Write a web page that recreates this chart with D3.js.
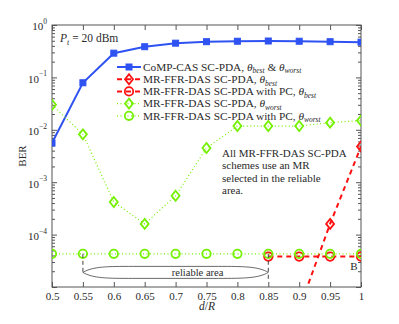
<!DOCTYPE html>
<html>
<meta charset="utf-8">
<style>
  body { margin: 0; background: #fff; }
  text { font-family: "Liberation Serif", "Times New Roman", "DejaVu Serif", serif; fill: #2a2a2a; }
  .axis line { stroke: #555; }
  .axis path { display: none; }
</style>
<body>
<script src="https://d3js.org/d3.v7.min.js"></script>
<script>
// ---- data ----
var dR = [0.5, 0.55, 0.6, 0.65, 0.7, 0.75, 0.8, 0.85, 0.9, 0.95, 1];
var compCas   = [5.6e-3, 0.079, 0.29, 0.385, 0.45, 0.48, 0.49, 0.495, 0.49, 0.48, 0.47];
var ffrWorst   = [0.030, 0.0082, 4.2e-4, 1.6e-4, 5.5e-4, 4.5e-3, 0.0118, 0.0118, 0.0118, 0.0137, 0.015];
var ffrWorstPc = [4.3e-5, 4.3e-5, 4.3e-5, 4.3e-5, 4.3e-5, 4.3e-5, 4.3e-5, 4.3e-5, 4.3e-5, 4.3e-5, 4.3e-5];
var ffrBestD   = [0.9, 0.95, 1];
var ffrBest    = [3.8e-6, 1.6e-4, 4.8e-3];
var ffrBestPcD = [0.85, 0.9, 0.95, 1];
var ffrBestPc  = [3.8e-5, 3.8e-5, 3.8e-5, 3.8e-5];
var xTickLabels = ["0.5", "0.55", "0.6", "0.65", "0.7", "0.75", "0.8", "0.85", "0.9", "0.95", "1"];
var yDecades = [1, 1e-1, 1e-2, 1e-3, 1e-4, 1e-5];
var yDecadeLabels = ["0", "\u22121", "\u22122", "\u22123", "\u22124", ""];
var legendNames = ["CoMP-CAS SC-PDA, ", "MR-FFR-DAS SC-PDA, ", "MR-FFR-DAS SC-PDA with PC, ",
                   "MR-FFR-DAS SC-PDA, ", "MR-FFR-DAS SC-PDA with PC, "];
var legendSubs = [["best", "worst"], ["best"], ["best"], ["worst"], ["worst"]];
var noteLines = ["All MR-FFR-DAS SC-PDA", "schemes use an MR", "selected in the reliable", "area."];

var width = 399, height = 324;
var mLeft = 52, mRight = 361, mTop = 25, mBottom = 287;

var x = d3.scaleLinear().domain([0.5, 1]).range([mLeft, mRight]);
var y = d3.scaleLog().domain([1e-5, 1]).range([mBottom, mTop]);

var blue = "#2f52f2", red = "#ff1010", green = "#74f000";

var svg = d3.select("body").append("svg")
    .attr("width", width)
    .attr("height", height);

svg.append("clipPath").attr("id", "plot")
  .append("rect").attr("x", mLeft).attr("y", mTop)
    .attr("width", mRight - mLeft).attr("height", mBottom - mTop);

// minor log ticks
var minor = [];
yDecades.slice(1).forEach(function(d) {
  for (var k = 2; k <= 9; k++) minor.push(d * k);
});

svg.append("g").attr("class", "axis")
    .attr("transform", "translate(" + mLeft + ",0)")
    .call(d3.axisLeft(y).tickValues(minor).tickSize(-3).tickFormat(""));
svg.append("g").attr("class", "axis")
    .attr("transform", "translate(" + mRight + ",0)")
    .call(d3.axisRight(y).tickValues(minor).tickSize(-3).tickFormat(""));
svg.append("g").attr("class", "axis")
    .attr("transform", "translate(" + mRight + ",0)")
    .call(d3.axisRight(y).tickValues(yDecades).tickSize(-5).tickFormat(""));

var yAxis = svg.append("g").attr("class", "axis")
    .attr("transform", "translate(" + mLeft + ",0)")
    .call(d3.axisLeft(y).tickValues(yDecades).tickSize(-5).tickPadding(10).tickFormat(""));
yAxis.selectAll(".tick text").each(function(d, i) {
  if (!yDecadeLabels[i]) return;
  var t = d3.select(this).attr("font-size", 11).attr("text-anchor", "end").attr("x", -5).attr("dy", "0.45em")
      .style("fill", "#2a2a2a");
  t.append("tspan").text("10");
  t.append("tspan").attr("font-size", 7.5).attr("dy", "-0.85em").text(yDecadeLabels[i]);
});

var xAxis = svg.append("g").attr("class", "axis")
    .attr("transform", "translate(0," + mBottom + ")")
    .call(d3.axisBottom(x).tickValues(dR).tickSize(-5).tickPadding(5)
      .tickFormat(function(d, i) { return xTickLabels[i]; }));
xAxis.selectAll(".tick text").attr("font-size", 11).style("fill", "#2a2a2a");
svg.append("g").attr("class", "axis")
    .attr("transform", "translate(0," + mTop + ")")
    .call(d3.axisTop(x).tickValues(dR).tickSize(-5).tickFormat(""));
svg.selectAll(".axis").attr("font-family", null);

svg.append("rect")
    .attr("x", mLeft).attr("y", mTop)
    .attr("width", mRight - mLeft).attr("height", mBottom - mTop)
    .attr("fill", "none").attr("stroke", "#555").attr("stroke-width", 1);

// ---- series ----
var plot = svg.append("g").attr("clip-path", "url(#plot)");
var line = d3.line().x(function(d) { return x(d[0]); }).y(function(d) { return y(d[1]); });

function pairs(xs, ys) { return xs.map(function(v, i) { return [v, ys[i]]; }); }

var series = [
  {pts: pairs(dR, compCas), color: blue, width: 2, dash: null, marker: "square"},
  {pts: pairs(ffrBestD, ffrBest), color: red, width: 2, dash: "5,4", marker: "diamond"},
  {pts: pairs(ffrBestPcD, ffrBestPc), color: red, width: 2, dash: "5,4", marker: "circle"},
  {pts: pairs(dR, ffrWorst), color: green, width: 1.2, dash: "1,2.5", marker: "diamond"},
  {pts: pairs(dR, ffrWorstPc), color: green, width: 1.2, dash: "1,2.5", marker: "circle"}
];

function drawMarker(g, type, cx, cy, color) {
  if (type === "square") {
    g.append("rect").attr("x", cx - 3).attr("y", cy - 3).attr("width", 6).attr("height", 6)
      .attr("fill", color).attr("stroke", color);
  } else if (type === "diamond") {
    g.append("path").attr("d", "M" + cx + "," + (cy - 5) + "L" + (cx + 4) + "," + cy +
        "L" + cx + "," + (cy + 5) + "L" + (cx - 4) + "," + cy + "Z")
      .attr("fill", "none").attr("stroke", color).attr("stroke-width", 1.8);
  } else {
    g.append("circle").attr("cx", cx).attr("cy", cy).attr("r", 4.2)
      .attr("fill", "none").attr("stroke", color).attr("stroke-width", 1.8);
  }
}

// draw in order so green circles sit over the red dashed line
[1, 2, 0, 3, 4].forEach(function(i) {
  var s = series[i];
  plot.append("path").datum(s.pts)
      .attr("d", line)
      .attr("fill", "none")
      .attr("stroke", s.color)
      .attr("stroke-width", s.width)
      .attr("stroke-dasharray", s.dash);
  s.pts.forEach(function(p) {
    drawMarker(plot, s.marker, x(p[0]), y(p[1]), s.color);
  });
});

// ---- reliable area annotation ----
var yc = y(1.9e-5), x0 = x(0.55), x1 = x(0.85), h = 6;
svg.append("line").attr("x1", x0).attr("x2", x0).attr("y1", y(4.3e-5)).attr("y2", yc)
    .attr("stroke", "#444").attr("stroke-dasharray", "4,3");
svg.append("line").attr("x1", x1).attr("x2", x1).attr("y1", y(4.3e-5)).attr("y2", mBottom - 6)
    .attr("stroke", "#444").attr("stroke-dasharray", "4,3");
svg.append("path")
    .attr("d", "M" + x0 + "," + yc +
      "C" + (x0 + 10) + "," + (yc - h) + " " + (x0 + 25) + "," + (yc - h) + " " + (x0 + 50) + "," + (yc - h) +
      "L" + (x1 - 50) + "," + (yc - h) +
      "C" + (x1 - 25) + "," + (yc - h) + " " + (x1 - 10) + "," + (yc - h) + " " + x1 + "," + yc +
      "C" + (x1 - 10) + "," + (yc + h) + " " + (x1 - 25) + "," + (yc + h) + " " + (x1 - 50) + "," + (yc + h) +
      "L" + (x0 + 50) + "," + (yc + h) +
      "C" + (x0 + 25) + "," + (yc + h) + " " + (x0 + 10) + "," + (yc + h) + " " + x0 + "," + yc + "Z")
    .attr("fill", "#fff").attr("stroke", "#444").attr("stroke-width", 0.8);
svg.append("text").attr("x", (x0 + x1) / 2 + 22).attr("y", yc + 3.5)
    .attr("text-anchor", "middle").attr("font-size", 10.5).text("reliable area");

svg.append("text").attr("x", 354).attr("y", 270).attr("text-anchor", "middle")
    .attr("font-size", 11).text("B");

// ---- P_t label ----
var pt = svg.append("text").attr("x", 60).attr("y", 42).attr("font-size", 11.5);
pt.append("tspan").attr("font-style", "italic").text("P");
pt.append("tspan").attr("font-style", "italic").attr("font-size", 8).attr("dy", 2.5).text("t");
pt.append("tspan").attr("dy", -2.5).text(" = 20 dBm");

// ---- legend ----
var lg = svg.append("g");
series.forEach(function(s, i) {
  var ly = 67 + i * 12.2;
  lg.append("line").attr("x1", 117).attr("x2", 141).attr("y1", ly).attr("y2", ly)
    .attr("stroke", s.color).attr("stroke-width", s.width).attr("stroke-dasharray", s.dash);
  drawMarker(lg, s.marker, 129, ly, s.color);
  var t = lg.append("text").attr("x", 143).attr("y", ly + 3.8).attr("font-size", 11.3);
  t.append("tspan").text(legendNames[i]);
  legendSubs[i].forEach(function(sub, j) {
    if (j > 0) t.append("tspan").attr("dy", -2.5).text(" & ");
    t.append("tspan").attr("font-style", "italic").text("\u03b8");
    t.append("tspan").attr("font-style", "italic").attr("font-size", 7.5).attr("dy", 2.5).text(sub);
  });
});

// ---- note ----
svg.append("text").attr("x", 222).attr("y", 157).attr("font-size", 11)
  .selectAll("tspan").data(noteLines).enter().append("tspan")
    .attr("x", 222).attr("dy", function(d, i) { return i ? 12.3 : 0; })
    .text(function(d) { return d; });

// ---- axis titles ----
svg.append("text").attr("transform", "translate(26,156) rotate(-90)")
    .attr("text-anchor", "middle").attr("font-size", 11).text("BER");
var xl = svg.append("text").attr("x", 207).attr("y", 310).attr("text-anchor", "middle")
    .attr("font-size", 11.5).attr("font-style", "italic");
xl.append("tspan").text("d");
xl.append("tspan").attr("font-style", "normal").text("/");
xl.append("tspan").text("R");
</script>
</body>
</html>
